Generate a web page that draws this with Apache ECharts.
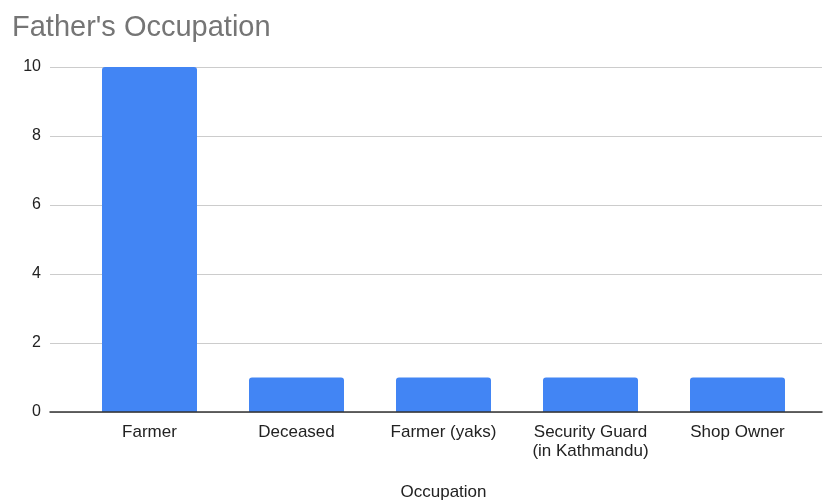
<!DOCTYPE html>
<html><head><meta charset="utf-8">
<script src="https://cdn.jsdelivr.net/npm/echarts@6/dist/echarts.min.js"></script>
<style>html,body{margin:0;padding:0;background:#fff}#c{width:823px;height:500px}</style>
</head><body><div id="c"></div>
<script>
const categories = ["Farmer", "Deceased", "Farmer (yaks)", "Security Guard\n(in Kathmandu)", "Shop Owner"];
const counts = [10, 1, 1, 1, 1];
const yTicks = { min: 0, max: 10, interval: 2 };

const chart = echarts.init(document.getElementById('c'));
const font = 'Liberation Sans, Arial, sans-serif';
chart.setOption({
  animation: false,
  title: { text: "Father's Occupation", left: 7, top: 8,
    textStyle: { fontFamily: font, fontSize: 29, fontWeight: 'normal', color: '#757575' } },
  grid: [
    { left: 50, right: 1, top: 67, bottom: 88, outerBoundsMode: 'none', containLabel: false },
    { left: 76, right: 12, top: 67, bottom: 88, outerBoundsMode: 'none', containLabel: false }
  ],
  xAxis: [
    { gridIndex: 0, type: 'category', data: categories,
      axisLine: { show: true, lineStyle: { color: '#333', width: 1.5 } },
      axisTick: { show: false }, axisLabel: { show: false }, z: 5 },
    { gridIndex: 1, type: 'category', data: categories,
      axisLine: { show: false }, axisTick: { show: false },
      axisLabel: { interval: 0, hideOverlap: false, fontFamily: font, fontSize: 17, color: '#222', margin: 11, lineHeight: 19 },
      name: 'Occupation', nameLocation: 'middle', nameGap: 72,
      nameTextStyle: { fontFamily: font, fontSize: 17, color: '#222' } }
  ],
  yAxis: [
    { gridIndex: 0, type: 'value', min: yTicks.min, max: yTicks.max, interval: yTicks.interval,
      axisLine: { show: false }, axisTick: { show: false },
      axisLabel: { fontFamily: font, fontSize: 16, color: '#222', margin: 9 },
      splitLine: { lineStyle: { color: '#ccc', width: 1 } } },
    { gridIndex: 1, type: 'value', min: yTicks.min, max: yTicks.max, interval: yTicks.interval,
      show: false, splitLine: { show: false } }
  ],
  series: [{
    type: 'bar', xAxisIndex: 1, yAxisIndex: 1, data: counts, barWidth: 95,
    itemStyle: { color: '#4285F4', borderRadius: [3, 3, 0, 0] }
  }]
});
</script></body></html>
